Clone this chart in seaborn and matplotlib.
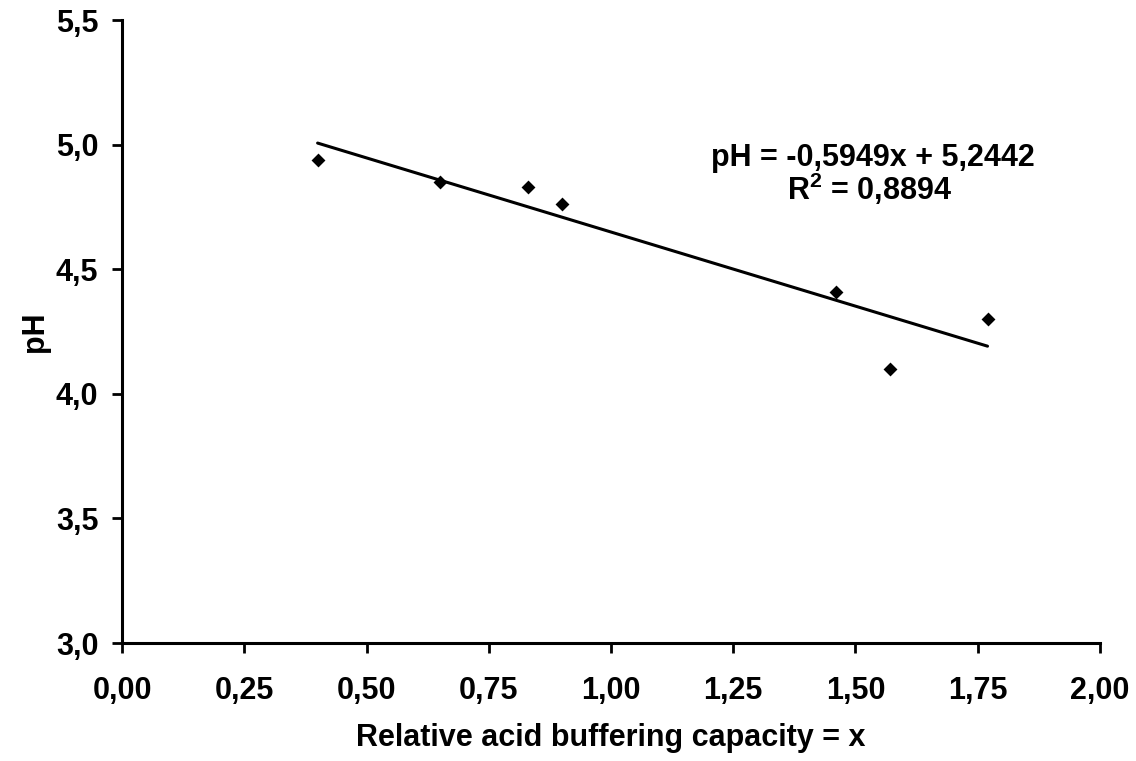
import numpy as np
import pandas as pd
import matplotlib
matplotlib.use("Agg")
import matplotlib.pyplot as plt
from matplotlib.ticker import FuncFormatter
import seaborn as sns

# values
buffering = [0.40, 0.65, 0.83, 0.90, 1.46, 1.57, 1.77]
ph_values = [4.94, 4.85, 4.83, 4.76, 4.41, 4.10, 4.30]
fit_slope = -0.5949
fit_intercept = 5.2442
r_squared = 0.8894
x_ticks = [0.0, 0.25, 0.5, 0.75, 1.0, 1.25, 1.5, 1.75, 2.0]
y_ticks = [3.0, 3.5, 4.0, 4.5, 5.0, 5.5]

df = pd.DataFrame({"x": buffering, "pH": ph_values})
fit = pd.DataFrame({"x": [min(buffering), max(buffering)]})
fit["pH"] = fit_slope * fit["x"] + fit_intercept

sns.set_style("ticks")
plt.rcParams["font.family"] = ["Liberation Sans", "DejaVu Sans"]
plt.rcParams["font.weight"] = "bold"
plt.rcParams["text.color"] = "black"
plt.rcParams["axes.labelcolor"] = "black"
plt.rcParams["mathtext.fontset"] = "custom"
plt.rcParams["mathtext.rm"] = "Liberation Sans:bold"
plt.rcParams["mathtext.bf"] = "Liberation Sans:bold"

fig = plt.figure(figsize=(11.36, 7.61), dpi=100)
ax = fig.add_axes([0.1074, 0.155, 0.8609, 0.8187])

sns.lineplot(data=fit, x="x", y="pH", color="black", linewidth=2.2, ax=ax)
sns.scatterplot(data=df, x="x", y="pH", marker="D", s=50, color="black",
                edgecolor="black", linewidth=0, ax=ax, zorder=3)

ax.set_xlim(0, 2)
ax.set_ylim(3, 5.5)
ax.set_xticks(x_ticks)
ax.set_yticks(y_ticks)
ax.xaxis.set_major_formatter(FuncFormatter(lambda v, p: f"{v:.2f}".replace(".", ",")))
ax.yaxis.set_major_formatter(FuncFormatter(lambda v, p: f"{v:.1f}".replace(".", ",")))
ax.tick_params(axis="both", labelsize=22, width=2, length=7, color="black", labelcolor="black")
ax.tick_params(axis="x", pad=17)
ax.tick_params(axis="y", pad=10)
for lab in ax.get_xticklabels() + ax.get_yticklabels():
    lab.set_fontweight("bold")

sns.despine(ax=ax)
for side in ["left", "bottom"]:
    ax.spines[side].set_linewidth(2.2)
    ax.spines[side].set_color("black")

ax.set_xlabel("Relative acid buffering capacity = x", fontsize=22, fontweight="bold", labelpad=12)
ax.set_ylabel("pH", fontsize=22, fontweight="bold", labelpad=4)

eq = f"pH = {fit_slope:.4f}x + {fit_intercept:.4f}".replace(".", ",")
ax.text(1.536, 4.945, eq, fontsize=22, fontweight="bold", ha="center", va="center")
r2 = (r"R$^{\mathbf{2}}$ = " + f"{r_squared:.4f}").replace(".", ",")
ax.text(1.528, 4.822, r2, fontsize=22, fontweight="bold", ha="center", va="center")

fig.savefig("out.png", dpi=100)
